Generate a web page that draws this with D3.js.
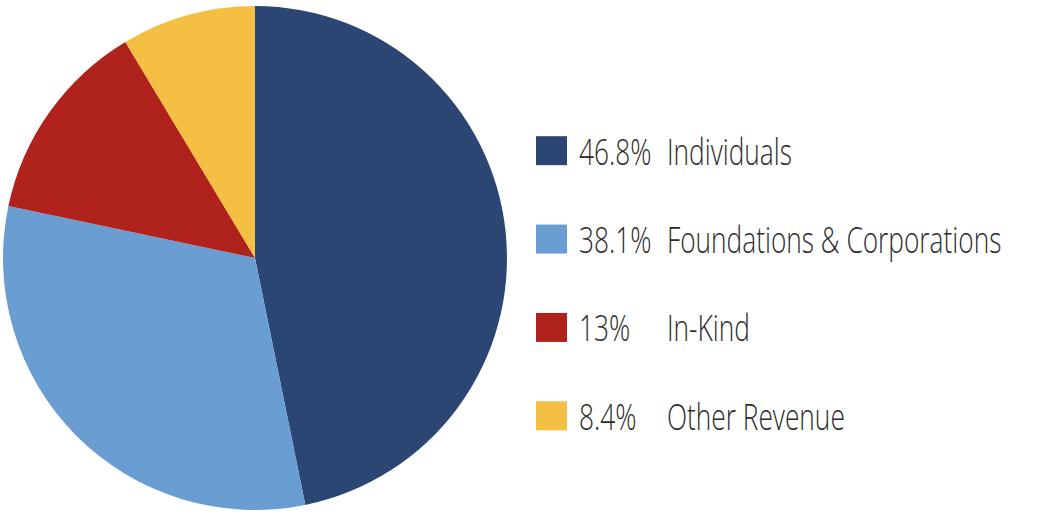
<!DOCTYPE html>
<html>
<head>
<meta charset="utf-8">
<script src="https://cdn.jsdelivr.net/npm/d3@7"></script>
<style>
  html, body { margin: 0; padding: 0; background: #fff; }
  svg { display: block; }
  .legend text { font-family: "Open Sans", sans-serif; font-weight: 300; fill: #2b2b2b; }
</style>
</head>
<body>
<svg id="chart" width="1061" height="518"></svg>
<script>
// slice sizes as drawn (the printed labels don't quite add up to 100)
const categories = ["Individuals", "Foundations & Corporations", "In-Kind", "Other Revenue"]
const values = [46.8, 31.5, 13.1, 8.6]
const pctLabels = ["46.8%", "38.1%", "13%", "8.4%"]
const colors = ["#2b4673", "#6a9dd2", "#b0231c", "#f5bf43"]

const width = 1061, height = 518
const svg = d3.select("#chart")

const data = categories.map(function (c, i) {
  return { name: c, value: values[i], pct: pctLabels[i], color: colors[i] }
})

// pie
const cx = 255, cy = 258, radius = 252

const pie = d3.pie().sort(null).value(function (d) { return d.value })
const arc = d3.arc().innerRadius(0).outerRadius(radius)

svg.append("g")
  .attr("class", "pie")
  .attr("transform", `translate(${cx},${cy})`)
  .selectAll("path")
  .data(pie(data))
  .enter().append("path")
    .attr("d", arc)
    .attr("fill", function (d) { return d.data.color })

// legend
const legendY = d3.scaleBand()
  .domain(categories)
  .range([106.5, 460])

const sw = 31, sh = 29
const sx = 0.73   // squeeze the font to look condensed

const rows = svg.append("g")
  .attr("class", "legend")
  .selectAll("g")
  .data(data)
  .enter().append("g")
    .attr("transform", function (d) {
      return `translate(536,${legendY(d.name) + legendY.bandwidth() / 2})`
    })

rows.append("rect")
  .attr("x", 0)
  .attr("y", -sh / 2)
  .attr("width", sw)
  .attr("height", sh)
  .attr("fill", function (d) { return d.color })

rows.append("text")
  .attr("transform", `translate(43,14) scale(${sx},1)`)
  .attr("font-size", 36)
  .text(function (d) { return d.pct })

rows.append("text")
  .attr("transform", `translate(131,14) scale(${sx},1)`)
  .attr("font-size", 36)
  .text(function (d) { return d.name })
</script>
</body>
</html>
